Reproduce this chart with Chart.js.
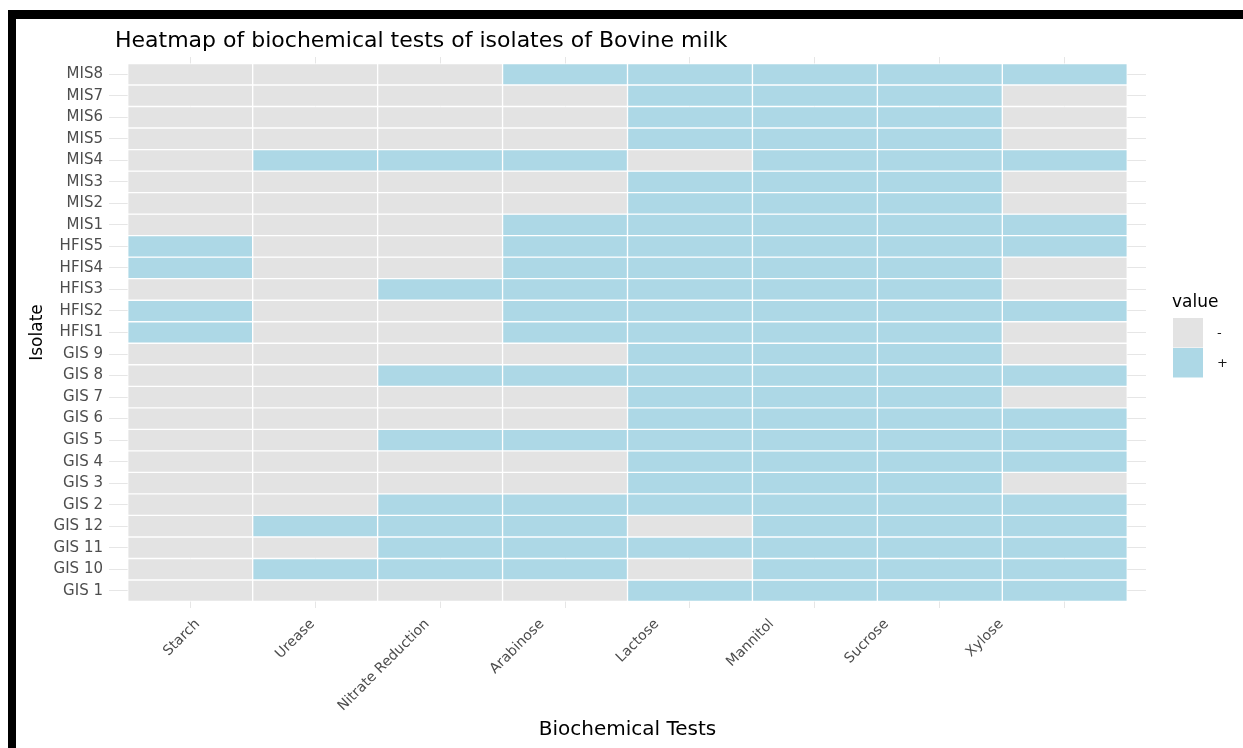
<!DOCTYPE html>
<html>
<head>
<meta charset="utf-8">
<title>Heatmap of biochemical tests of isolates of Bovine milk</title>
<script src="https://cdn.jsdelivr.net/npm/chart.js@4.4.1/dist/chart.umd.min.js"></script>
<style>
  html, body { margin: 0; padding: 0; background: #ffffff; }
  #wrap { position: absolute; left: 0; top: 0; width: 1243px; height: 748px; }
  .frame { position: absolute; background: #000000; z-index: 2; }
</style>
</head>
<body>
<div id="wrap"><canvas id="chart"></canvas></div>
<div class="frame" style="left:8px; top:10px; width:1235px; height:9px;"></div>
<div class="frame" style="left:8px; top:10px; width:8px; height:738px;"></div>
<script>
// Isolates, listed from the bottom row of the heatmap to the top row
const isolates = ["GIS 1", "GIS 10", "GIS 11", "GIS 12", "GIS 2", "GIS 3", "GIS 4", "GIS 5",
  "GIS 6", "GIS 7", "GIS 8", "GIS 9", "HFIS1", "HFIS2", "HFIS3", "HFIS4", "HFIS5",
  "MIS1", "MIS2", "MIS3", "MIS4", "MIS5", "MIS6", "MIS7", "MIS8"];

// Biochemical tests, left to right
const tests = ["Starch", "Urease", "Nitrate Reduction", "Arabinose", "Lactose", "Mannitol", "Sucrose", "Xylose"];

// Test results per isolate (same order as `isolates`)
const starch    = ["-","-","-","-","-","-","-","-","-","-","-","-","+","+","-","+","+","-","-","-","-","-","-","-","-"];
const urease    = ["-","+","-","+","-","-","-","-","-","-","-","-","-","-","-","-","-","-","-","-","+","-","-","-","-"];
const nitrate   = ["-","+","+","+","+","-","-","+","-","-","+","-","-","-","+","-","-","-","-","-","+","-","-","-","-"];
const arabinose = ["-","+","+","+","+","-","-","+","-","-","+","-","+","+","+","+","+","+","-","-","+","-","-","-","+"];
const lactose   = ["+","-","+","-","+","+","+","+","+","+","+","+","+","+","+","+","+","+","+","+","-","+","+","+","+"];
const mannitol  = ["+","+","+","+","+","+","+","+","+","+","+","+","+","+","+","+","+","+","+","+","+","+","+","+","+"];
const sucrose   = ["+","+","+","+","+","+","+","+","+","+","+","+","+","+","+","+","+","+","+","+","+","+","+","+","+"];
const xylose    = ["+","+","+","+","+","-","+","+","+","-","+","-","-","+","-","-","+","+","-","-","+","-","-","-","+"];

// Legend levels
const levels = ["-", "+"];

const results = [starch, urease, nitrate, arabinose, lactose, mannitol, sucrose, xylose];
const fillColors = { "-": "#e3e3e3", "+": "#add8e6" };
const FONT = "'DejaVu Sans', 'Liberation Sans', Arial, sans-serif";

// One dataset per test column; every cell is a floating bar spanning its column
const datasets = tests.map((test, j) => ({
  label: test,
  data: isolates.map((iso, i) => ({ x: [j - 0.5, j + 0.5], y: i })),
  backgroundColor: results[j].map(v => fillColors[v]),
  borderColor: "#ffffff",
  borderWidth: 1,
  borderSkipped: false,
  grouped: false,
  categoryPercentage: 1,
  barPercentage: 1
}));

// Title and the fill legend
const annotations = {
  id: "annotations",
  afterDraw(chart) {
    const ctx = chart.ctx;
    ctx.save();
    ctx.fillStyle = "#000000";
    ctx.textAlign = "left";
    ctx.textBaseline = "alphabetic";
    ctx.font = "22px " + FONT;
    ctx.fillText("Heatmap of biochemical tests of isolates of Bovine milk", 115, 47);

    ctx.font = "17px " + FONT;
    ctx.fillText("value", 1172, 307);

    const keyX = 1173, keyY = 318, keyW = 30, keyH = 30;
    levels.forEach((lv, k) => {
      const y = keyY + k * keyH;
      ctx.fillStyle = fillColors[lv];
      ctx.fillRect(keyX, y, keyW, keyH);
      ctx.fillStyle = "#ffffff";
      ctx.fillRect(keyX, y + keyH - 0.5, keyW, 1);
      ctx.fillStyle = "#1a1a1a";
      ctx.font = "13px " + FONT;
      ctx.textBaseline = "middle";
      ctx.fillText(lv, 1217, y + keyH / 2 + 1);
    });
    ctx.restore();
  }
};

const testIndex = tests.map((t, j) => ({ value: j }));

new Chart(document.getElementById("chart"), {
  type: "bar",
  data: { datasets },
  plugins: [annotations],
  options: {
    indexAxis: "y",
    responsive: true,
    maintainAspectRatio: false,
    animation: false,
    events: [],
    devicePixelRatio: 1,
    layout: { autoPadding: false, padding: { left: 18, top: 57, right: 97, bottom: 0 } },
    plugins: { legend: { display: false }, title: { display: false }, tooltip: { enabled: false } },
    scales: {
      // value axis carrying the column grid
      x: {
        type: "linear",
        position: "bottom",
        min: -0.65,
        max: 7.65,
        afterBuildTicks: scale => { scale.ticks = testIndex.map(t => ({ ...t })); },
        afterFit: scale => { scale.height = 0; },
        border: { display: false },
        grid: { color: "#e6e6e6", lineWidth: 1, drawTicks: false },
        ticks: { display: false }
      },
      // axis carrying the slanted test names and the axis title
      xLabels: {
        type: "linear",
        position: "bottom",
        min: -0.772,
        max: 8.261,
        afterBuildTicks: scale => { scale.ticks = testIndex.map(t => ({ ...t })); },
        afterFit: scale => { scale.height = 140; },
        border: { display: false },
        grid: { display: false, drawTicks: false },
        ticks: {
          autoSkip: false,
          minRotation: 45,
          maxRotation: 45,
          padding: 8,
          color: "#4d4d4d",
          font: { family: FONT, size: 14 },
          callback: v => tests[v]
        },
        title: {
          display: true,
          text: "Biochemical Tests",
          color: "#000000",
          font: { family: FONT, size: 20 },
          padding: { top: 0, bottom: 6 }
        }
      },
      y: {
        type: "linear",
        position: "left",
        min: -0.8,
        max: 24.8,
        offset: false,
        afterBuildTicks: scale => { scale.ticks = isolates.map((s, i) => ({ value: i })); },
        afterFit: scale => { scale.width = 91; },
        border: { display: false },
        grid: { color: "#e6e6e6", lineWidth: 1, drawTicks: false, offset: false },
        ticks: {
          autoSkip: false,
          padding: 6,
          color: "#4d4d4d",
          font: { family: FONT, size: 15 },
          callback: v => isolates[v]
        },
        title: {
          display: true,
          text: "Isolate",
          color: "#000000",
          font: { family: FONT, size: 17 },
          padding: { top: 9, bottom: 0 }
        }
      }
    }
  }
});
</script>
</body>
</html>
